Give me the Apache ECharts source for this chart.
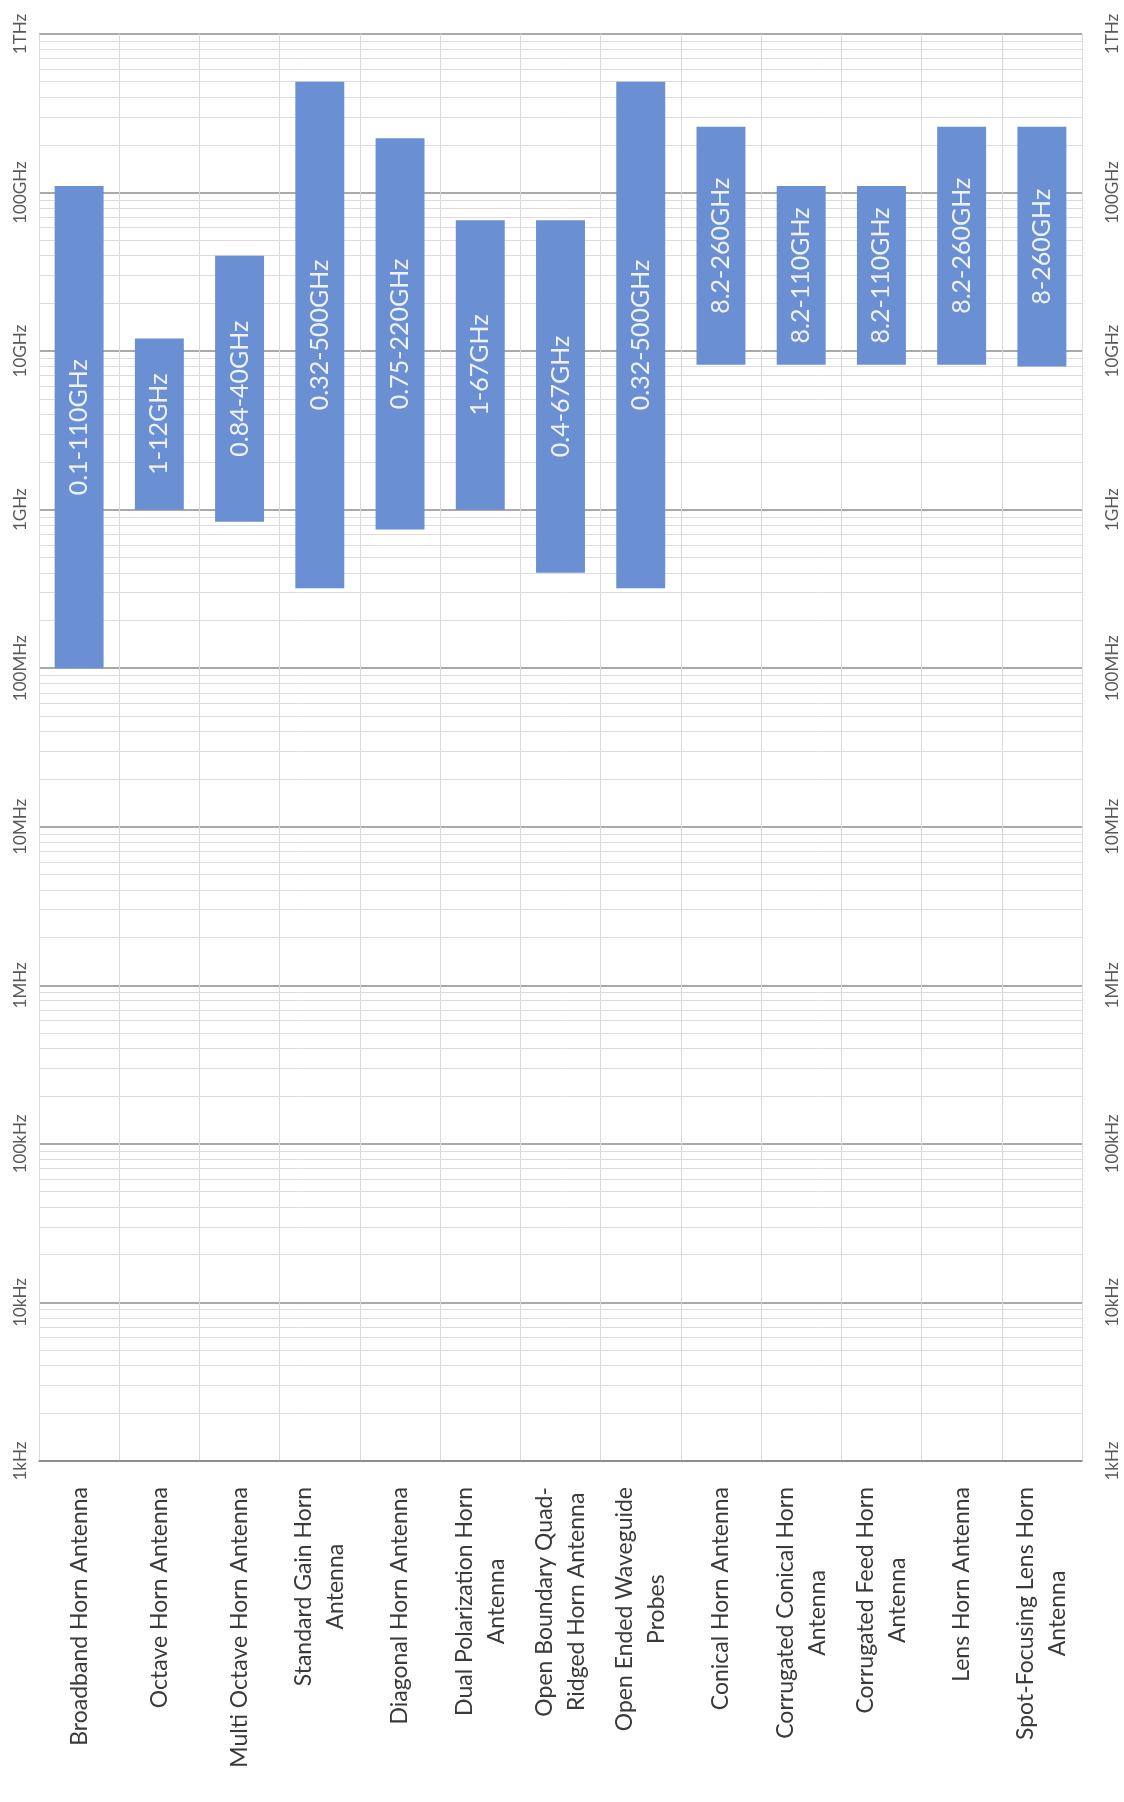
<!DOCTYPE html>
<html><head><meta charset="utf-8">
<script src="https://cdn.jsdelivr.net/npm/echarts@6/dist/echarts.min.js"></script>
<style>html,body{margin:0;padding:0;background:#fff}#c{width:1124px;height:1802px}</style>
</head><body><div id="c"></div>
<script>
const categories = [
  'Broadband Horn Antenna',
  'Octave Horn Antenna',
  'Multi Octave Horn Antenna',
  'Standard Gain Horn\nAntenna',
  'Diagonal Horn Antenna',
  'Dual Polarization Horn\nAntenna',
  'Open Boundary Quad-\nRidged Horn Antenna',
  'Open Ended Waveguide\nProbes',
  'Conical Horn Antenna',
  'Corrugated Conical Horn\nAntenna',
  'Corrugated Feed Horn\nAntenna',
  'Lens Horn Antenna',
  'Spot-Focusing Lens Horn\nAntenna'
];
const lowHz  = [0.1e9, 1e9, 0.84e9, 0.32e9, 0.75e9, 1e9, 0.4e9, 0.32e9, 8.2e9, 8.2e9, 8.2e9, 8.2e9, 8e9];
const highHz = [110e9, 12e9, 40e9, 500e9, 220e9, 67e9, 67e9, 500e9, 260e9, 110e9, 110e9, 260e9, 260e9];
const rangeLabels = ['0.1-110GHz','1-12GHz','0.84-40GHz','0.32-500GHz','0.75-220GHz','1-67GHz','0.4-67GHz','0.32-500GHz','8.2-260GHz','8.2-110GHz','8.2-110GHz','8.2-260GHz','8-260GHz'];
const tickValues = [1e3,1e4,1e5,1e6,1e7,1e8,1e9,1e10,1e11,1e12];
const tickLabels = ['1kHz','10kHz','100kHz','1MHz','10MHz','100MHz','1GHz','10GHz','100GHz','1THz'];

// minor log gridlines at 2..9 x each decade
const minorLines = [];
for (let d = 0; d < tickValues.length - 1; d++) {
  for (let m = 2; m <= 9; m++) minorLines.push({ yAxis: tickValues[d] * m });
}

function fmtTick(v) {
  for (let i = 0; i < tickValues.length; i++) {
    if (Math.abs(Math.log10(v) - Math.log10(tickValues[i])) < 1e-6) return tickLabels[i];
  }
  return '';
}

const FONT = 'Lato';
const chart = echarts.init(document.getElementById('c'));
const yAxisCommon = {
  type: 'log', logBase: 10, min: 1e3, max: 1e12,
  axisLine: { show: false }, axisTick: { show: false }
};
const yLabel = { rotate: 90, formatter: fmtTick, color: '#595959', fontFamily: FONT, fontSize: 17 };
chart.setOption({
  animation: false,
  backgroundColor: '#ffffff',
  grid: { left: 39, right: 42, top: 34, bottom: 341, containLabel: false },
  xAxis: {
    type: 'category', data: categories,
    axisLine: { show: true, lineStyle: { color: '#8c8c8c', width: 1.5 } },
    axisTick: { show: false },
    splitLine: { show: true, interval: 0, lineStyle: { color: '#d9d9d9', width: 1 } },
    axisLabel: {
      interval: 0, rotate: 90, margin: 26, hideOverlap: false,
      formatter: function (v) { return v.split('\n').map(s => '{c|' + s + '}').join('\n'); },
      rich: { c: { align: 'center', fontFamily: FONT, fontSize: 23, lineHeight: 32, color: '#3a3a3a' } }
    }
  },
  yAxis: [
    Object.assign({}, yAxisCommon, { position: 'left', axisLabel: Object.assign({ margin: 10 }, yLabel),
      splitLine: { show: true, lineStyle: { color: '#8c8c8c', width: 1.5 } } }),
    Object.assign({}, yAxisCommon, { position: 'right', axisLabel: Object.assign({ margin: 22 }, yLabel),
      splitLine: { show: false } })
  ],
  series: [
    {
      type: 'line', data: [], z: 1, silent: true,
      markLine: {
        silent: true, symbol: 'none', label: { show: false },
        lineStyle: { color: '#dcdcdc', width: 1, type: 'solid' },
        data: minorLines
      }
    },
    {
      type: 'custom', zlevel: 1, z: 3,
      data: categories.map((c, i) => [i, lowHz[i], highHz[i]]),
      encode: { x: 0, y: [1, 2] },
      renderItem: function (params, api) {
        const i = api.value(0);
        const top = api.coord([i, api.value(2)]);
        const bot = api.coord([i, api.value(1)]);
        const band = api.coord([1, 1e9])[0] - api.coord([0, 1e9])[0];
        const w = band * 0.61;
        return {
          type: 'rect',
          shape: { x: top[0] - w / 2, y: top[1], width: w, height: bot[1] - top[1] },
          style: { fill: '#6a8fd3' },
          textContent: {
            style: { text: rangeLabels[params.dataIndex], fill: '#eef2fa', fontFamily: FONT, fontSize: 25 }
          },
          textConfig: { position: 'inside', rotation: Math.PI / 2 }
        };
      }
    }
  ]
});
</script></body></html>
